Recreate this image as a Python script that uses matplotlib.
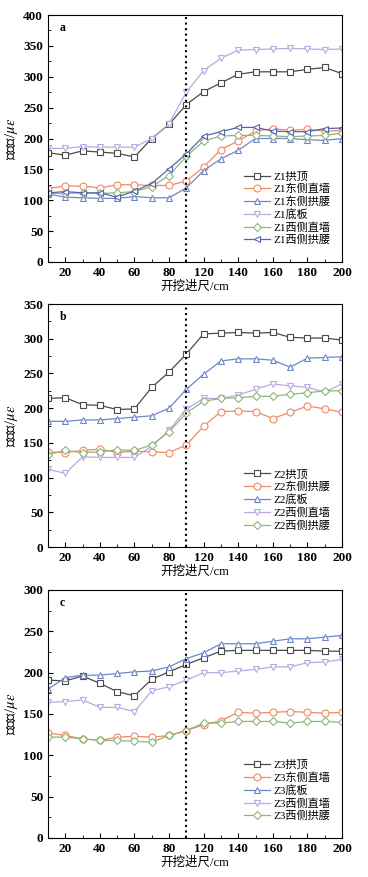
import numpy as np
import matplotlib.pyplot as plt
from matplotlib.ticker import MultipleLocator

plt.rcParams['font.family'] = ['Liberation Serif', 'Noto Sans CJK SC']
plt.rcParams['mathtext.fontset'] = 'stix'

# 开挖进尺 (cm) - points are equally spaced on the axis
excavation = [10, 20, 30, 40, 50, 60, 70, 80, 90, 120, 130, 140, 150, 160, 170, 180, 190, 200]
tick_labels = ['20', '40', '60', '80', '120', '140', '160', '180', '200']

# -------------------- Z1 --------------------
z1_names = ['Z1拱顶', 'Z1东侧直墙', 'Z1东侧拱腰', 'Z1底板', 'Z1西侧直墙', 'Z1西侧拱腰']
z1_crown = [177, 173, 180, 178, 176, 170, 200, 223, 255, 276, 290, 304, 308, 308, 308, 312, 315, 305]
z1_east_wall = [119, 123, 123, 120, 125, 125, 124, 124, 131, 154, 182, 196, 212, 216, 213, 215, 212, 213]
z1_east_haunch = [110, 105, 104, 103, 103, 106, 104, 104, 120, 148, 167, 181, 200, 200, 200, 198, 197, 200]
z1_floor = [184, 184, 187, 186, 186, 186, 200, 224, 275, 310, 330, 343, 344, 345, 346, 345, 344, 345]
z1_west_wall = [111, 111, 112, 111, 112, 114, 122, 140, 171, 196, 204, 205, 205, 204, 203, 204, 205, 209]
z1_west_haunch = [112, 114, 112, 112, 105, 115, 127, 151, 175, 204, 211, 218, 218, 212, 211, 211, 216, 217]

# -------------------- Z2 --------------------
z2_names = ['Z2拱顶', 'Z2东侧拱腰', 'Z2底板', 'Z2西侧直墙', 'Z2西侧拱腰']
z2_crown = [214, 215, 205, 204, 198, 199, 230, 252, 278, 307, 308, 309, 308, 309, 302, 301, 301, 298]
z2_east_haunch = [137, 136, 139, 141, 136, 138, 137, 136, 147, 174, 195, 196, 195, 185, 194, 203, 199, 194]
z2_floor = [181, 181, 183, 183, 185, 187, 189, 200, 227, 249, 268, 271, 271, 269, 259, 272, 273, 274]
z2_west_wall = [112, 106, 130, 129, 129, 129, 145, 168, 199, 214, 214, 219, 227, 235, 232, 230, 223, 235]
z2_west_haunch = [133, 139, 136, 137, 140, 139, 147, 166, 193, 210, 214, 215, 217, 217, 220, 222, 225, 225]

# -------------------- Z3 --------------------
z3_names = ['Z3拱顶', 'Z3东侧直墙', 'Z3底板', 'Z3西侧直墙', 'Z3西侧拱腰']
z3_crown = [191, 190, 196, 187, 177, 172, 192, 201, 210, 218, 226, 227, 227, 227, 227, 227, 226, 226]
z3_east_wall = [127, 124, 120, 118, 122, 123, 122, 124, 130, 137, 142, 152, 151, 152, 153, 152, 151, 152]
z3_floor = [180, 194, 197, 197, 199, 201, 202, 207, 217, 224, 235, 235, 235, 238, 241, 241, 243, 245]
z3_west_wall = [164, 165, 167, 158, 158, 153, 178, 183, 191, 200, 200, 202, 204, 207, 207, 212, 213, 216]
z3_west_haunch = [122, 122, 120, 118, 118, 117, 116, 124, 130, 139, 139, 141, 141, 141, 139, 141, 141, 140]

# 样式
c_black = '#4a4a4a'
c_orange = '#ee8a62'
c_blue = '#6f86c8'
c_lav = '#b9a9e2'
c_green = '#8fb57a'
c_dblue = '#5566b0'

panels = [
    dict(tag='a', ymax=400, names=z1_names,
         data=[z1_crown, z1_east_wall, z1_east_haunch, z1_floor, z1_west_wall, z1_west_haunch],
         styles=[(c_black, 's'), (c_orange, 'o'), (c_blue, '^'), (c_lav, 'v'), (c_green, 'D'), (c_dblue, '<')],
         rect=[48 / 368, 1 - 262 / 877, 294 / 368, 247 / 877]),
    dict(tag='b', ymax=350, names=z2_names,
         data=[z2_crown, z2_east_haunch, z2_floor, z2_west_wall, z2_west_haunch],
         styles=[(c_black, 's'), (c_orange, 'o'), (c_blue, '^'), (c_lav, 'v'), (c_green, 'D')],
         rect=[48 / 368, 1 - 547 / 877, 294 / 368, 243 / 877]),
    dict(tag='c', ymax=300, names=z3_names,
         data=[z3_crown, z3_east_wall, z3_floor, z3_west_wall, z3_west_haunch],
         styles=[(c_black, 's'), (c_orange, 'o'), (c_blue, '^'), (c_lav, 'v'), (c_green, 'D')],
         rect=[48 / 368, 1 - 838 / 877, 294 / 368, 248 / 877]),
]

fig = plt.figure(figsize=(3.68, 8.77), dpi=100)
pos = np.arange(len(excavation))

for p in panels:
    ax = fig.add_axes(p['rect'])
    for vals, name, (col, mk) in zip(p['data'], p['names'], p['styles']):
        ms = 5 if mk != 'D' else 4.3
        ax.plot(pos, vals, color=col, marker=mk, markersize=ms, markerfacecolor='white',
                markeredgecolor=col, markeredgewidth=0.8, linewidth=0.9, label=name)

    # 90 cm 处虚线
    ax.axvline(excavation.index(90), color='black', linestyle=':', linewidth=1.5)

    ax.set_xlim(0, len(excavation) - 1)
    ax.set_ylim(0, p['ymax'])
    ax.set_xticks(pos[1::2])
    ax.set_xticklabels(tick_labels)
    ax.set_xticks(pos, minor=True)
    ax.yaxis.set_major_locator(MultipleLocator(50))
    ax.yaxis.set_minor_locator(MultipleLocator(25))
    ax.tick_params(which='both', direction='in', top=False, right=False, labelsize=9.5)
    ax.tick_params(which='major', length=3.5, width=0.8)
    ax.tick_params(which='minor', length=2, width=0.6)
    for lab in ax.get_xticklabels() + ax.get_yticklabels():
        lab.set_fontweight('bold')
    for s in ax.spines.values():
        s.set_linewidth(0.8)

    ax.set_ylabel('应变值/' + r'$\mu\varepsilon$', fontsize=10.5, labelpad=2)
    ax.set_xlabel('开挖进尺/cm', fontsize=9, labelpad=1)
    ax.text(0.04, 0.97, p['tag'], transform=ax.transAxes, fontsize=8.5,
            fontweight='bold', va='top')

    ax.legend(loc='lower right', bbox_to_anchor=(0.975, 0.05), frameon=False, fontsize=8,
              handlelength=2.3, handletextpad=0.3, labelspacing=0.2, borderaxespad=0.0)

fig.savefig('out.png', dpi=100)
